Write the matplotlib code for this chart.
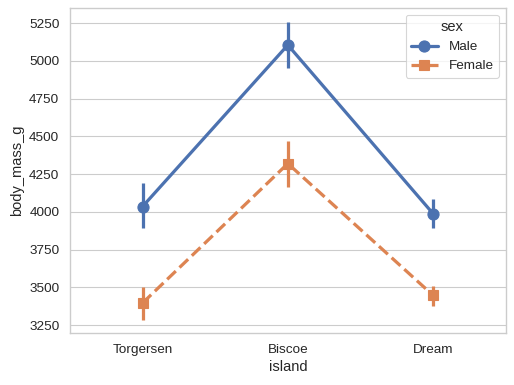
import matplotlib
matplotlib.use("Agg")
import matplotlib.pyplot as plt
import seaborn as sns

sns.set_theme(style="whitegrid", font_scale=1.1)
plt.rcParams["font.family"] = ["Liberation Sans", "DejaVu Sans"]

islands = ["Torgersen", "Biscoe", "Dream"]
male_mean = [4034.8, 5104.5, 3987.1]
male_lo = [3892, 4955, 3895]
male_hi = [4190, 5255, 4084]
female_mean = [3395.8, 4319.4, 3446.3]
female_lo = [3283, 4164, 3376]
female_hi = [3502, 4469, 3508]

blue, orange = sns.color_palette()[0], sns.color_palette()[1]

fig, ax = plt.subplots(figsize=(514 / 80, 385 / 80), dpi=80)
x = range(len(islands))

ax.vlines(x, male_lo, male_hi, color=blue, lw=2.9)
ax.plot(x, male_mean, color=blue, lw=2.9, marker="o", ms=10, label="Male")
ax.vlines(x, female_lo, female_hi, color=orange, lw=2.9)
ax.plot(x, female_mean, color=orange, lw=2.9, ls="--", marker="s", ms=9.5, label="Female")

ax.set_xticks(list(x))
ax.set_xticklabels(islands)
ax.set_xlim(-0.5, 2.5)
ax.set_ylim(3197, 5349)
ax.xaxis.grid(False)
ax.set_xlabel("island")
ax.set_ylabel("body_mass_g")
ax.legend(title="sex", loc="upper right")

fig.subplots_adjust(left=0.136, right=0.984, top=0.979, bottom=0.135)
fig.savefig("out.png")
